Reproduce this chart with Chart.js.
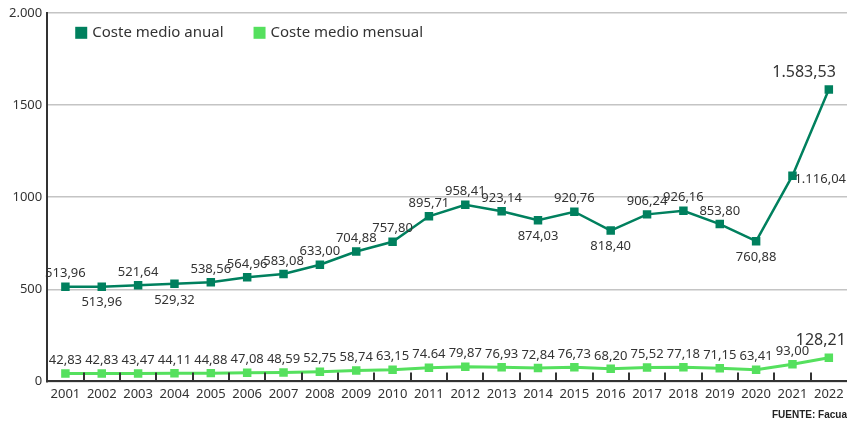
<!DOCTYPE html>
<html lang="es">
<head>
<meta charset="utf-8">
<script src="https://cdn.jsdelivr.net/npm/chart.js@4"></script>
<style>
  html, body { margin: 0; padding: 0; background: #fff; }
  #wrap { width: 847px; height: 425px; }
</style>
</head>
<body>
<div id="wrap"><canvas id="chart"></canvas></div>
<script>
const YEARS = ['2001', '2002', '2003', '2004', '2005', '2006', '2007', '2008', '2009', '2010', '2011',
  '2012', '2013', '2014', '2015', '2016', '2017', '2018', '2019', '2020', '2021', '2022'];

const ANNUAL = [513.96, 513.96, 521.64, 529.32, 538.56, 564.96, 583.08, 633.00, 704.88, 757.80, 895.71,
  958.41, 923.14, 874.03, 920.76, 818.40, 906.24, 926.16, 853.80, 760.88, 1116.04, 1583.53];

const MONTHLY = [42.83, 42.83, 43.47, 44.11, 44.88, 47.08, 48.59, 52.75, 58.74, 63.15, 74.64,
  79.87, 76.93, 72.84, 76.73, 68.20, 75.52, 77.18, 71.15, 63.41, 93.00, 128.21];

const Y_TICKS = { 0: '0', 500: '500', 1000: '1000', 1500: '1500', 2000: '2.000' };

// where each value label sits: a = above, b = below, r = right
const ANNUAL_POS = ['a', 'b', 'a', 'b', 'a', 'a', 'a', 'a', 'a', 'a', 'a',
  'a', 'a', 'b', 'a', 'b', 'a', 'a', 'a', 'b', 'r', 'a'];

const DARK = '#00805e';
const LIGHT = '#55e05e';
const TEXT = '#333333';
const FONT = "'Noto Sans', sans-serif";

// the source writes 2011 monthly with a dot
const LABEL_FIX = { 1: { 10: '74.64' } };

const fmt = (v) => {
  const [i, d] = v.toFixed(2).split('.');
  return i.replace(/\B(?=(\d{3})+(?!\d))/g, '.') + ',' + d;
};

const valueLabels = {
  id: 'valueLabels',
  afterDatasetsDraw(chart) {
    const ctx = chart.ctx;
    ctx.save();
    ctx.fillStyle = TEXT;
    chart.data.datasets.forEach((ds, di) => {
      const meta = chart.getDatasetMeta(di);
      meta.data.forEach((pt, i) => {
        const last = i === ds.data.length - 1;
        const txt = (LABEL_FIX[di] && LABEL_FIX[di][i]) || fmt(ds.data[i]);
        ctx.font = (last ? '16px ' : '13px ') + FONT;
        ctx.textBaseline = 'middle';
        const pos = di === 0 ? ANNUAL_POS[i] : 'a';
        if (pos === 'r') {
          ctx.textAlign = 'right';
          ctx.fillText(txt, chart.width - 1, pt.y + 4);
        } else if (pos === 'b') {
          ctx.textAlign = 'center';
          ctx.fillText(txt, pt.x, pt.y + 16);
        } else if (last) {
          ctx.textAlign = 'right';
          ctx.fillText(txt, pt.x + (di === 0 ? 7 : 17), pt.y - 17);
        } else {
          ctx.textAlign = 'center';
          ctx.fillText(txt, pt.x, pt.y - 13);
        }
      });
    });
    ctx.restore();
  },
};

// short tick marks rising from the x axis, between the years
const innerTicks = {
  id: 'innerTicks',
  afterDraw(chart) {
    const x = chart.scales.x;
    const bottom = chart.chartArea.bottom;
    const ctx = chart.ctx;
    ctx.save();
    ctx.strokeStyle = TEXT;
    ctx.lineWidth = 2;
    for (let i = 1; i < YEARS.length; i++) {
      const px = Math.round((x.getPixelForValue(i - 1) + x.getPixelForValue(i)) / 2);
      ctx.beginPath();
      ctx.moveTo(px, bottom);
      ctx.lineTo(px, bottom - 9);
      ctx.stroke();
    }
    ctx.restore();
  },
};

// one-row legend inside the plot, top left
const insideLegend = {
  id: 'insideLegend',
  afterDraw(chart) {
    const ctx = chart.ctx;
    const area = chart.chartArea;
    ctx.save();
    ctx.font = '15px ' + FONT;
    ctx.textBaseline = 'middle';
    ctx.textAlign = 'left';
    let x = area.left + 28;
    const y = area.top + 20;
    chart.data.datasets.forEach((ds) => {
      ctx.fillStyle = ds.borderColor;
      ctx.fillRect(x, y - 6, 12, 12);
      ctx.fillStyle = TEXT;
      ctx.fillText(ds.label, x + 17, y);
      x += 17 + ctx.measureText(ds.label).width + 30;
    });
    ctx.restore();
  },
};

new Chart(document.getElementById('chart'), {
  type: 'line',
  data: {
    labels: YEARS,
    datasets: [
      {
        label: 'Coste medio anual',
        data: ANNUAL,
        borderColor: DARK,
        backgroundColor: DARK,
        borderWidth: 2.5,
        pointStyle: 'rect',
        pointRadius: 6,
        pointBackgroundColor: DARK,
        pointBorderWidth: 0,
        tension: 0,
      },
      {
        label: 'Coste medio mensual',
        data: MONTHLY,
        borderColor: LIGHT,
        backgroundColor: LIGHT,
        borderWidth: 3,
        pointStyle: 'rect',
        pointRadius: 6,
        pointBackgroundColor: LIGHT,
        pointBorderWidth: 0,
        tension: 0,
      },
    ],
  },
  options: {
    responsive: true,
    maintainAspectRatio: false,
    animation: false,
    layout: { autoPadding: false, padding: { left: 4, right: 0, top: 9, bottom: 2 } },
    plugins: {
      legend: { display: false },
      subtitle: {
        display: true,
        text: 'FUENTE: Facua',
        position: 'bottom',
        align: 'end',
        color: '#222',
        font: { family: "'Liberation Sans', Arial, sans-serif", size: 10, weight: 'bold' },
        padding: { top: 2, bottom: 2 },
      },
      tooltip: { enabled: false },
    },
    scales: {
      x: {
        offset: true,
        grid: { display: false, drawTicks: false },
        border: { color: TEXT, width: 2 },
        ticks: { color: TEXT, font: { family: FONT, size: 13 }, padding: 5, maxRotation: 0, autoSkip: false },
        afterFit: (scale) => {
          scale.paddingLeft = 0;
          scale.paddingRight = 0;
        },
      },
      y: {
        min: 0,
        max: 2000,
        grid: { color: '#c4c4c4', lineWidth: 1.5, drawTicks: false },
        border: { color: TEXT, width: 2 },
        ticks: {
          stepSize: 500,
          color: TEXT,
          padding: 5,
          font: { family: FONT, size: 13 },
          callback: (v) => Y_TICKS[v],
        },
      },
    },
  },
  plugins: [valueLabels, innerTicks, insideLegend],
});
</script>
</body>
</html>
